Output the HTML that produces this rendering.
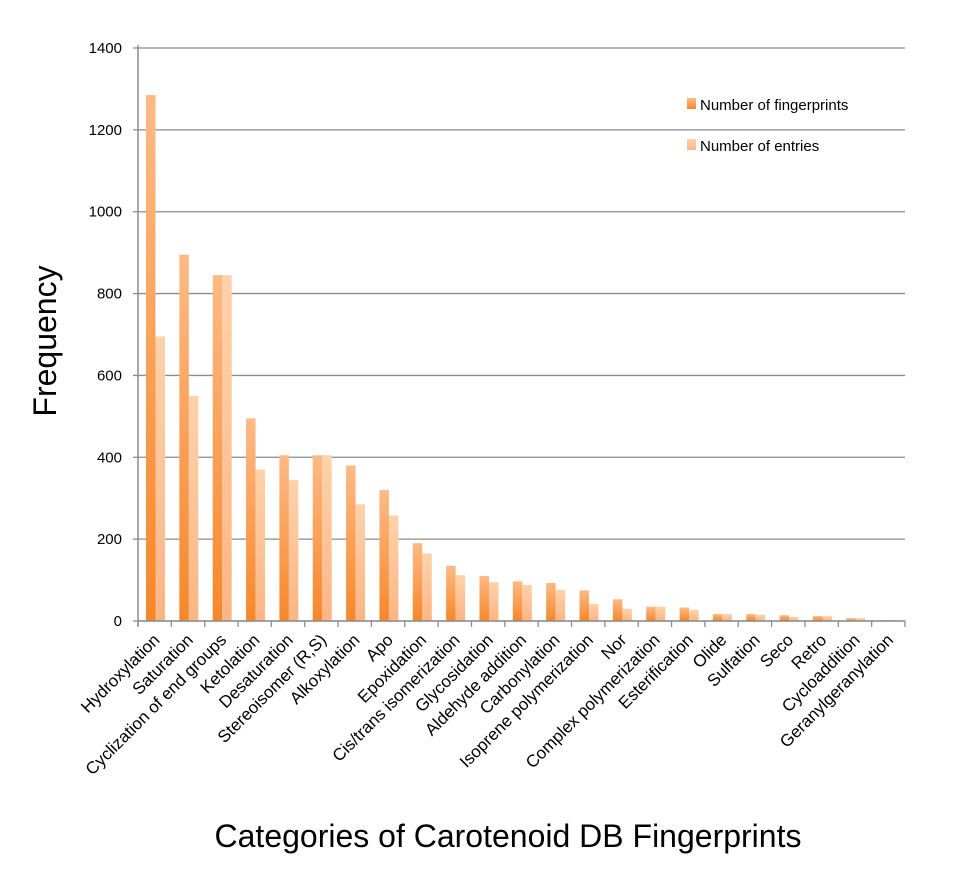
<!DOCTYPE html>
<html><head><meta charset="utf-8"><style>
body{margin:0;background:#fff;}
svg text{font-family:"Liberation Sans",Arial,sans-serif;fill:#000;}
</style></head><body>
<svg id="chart" width="967" height="883" viewBox="0 0 967 883" xmlns="http://www.w3.org/2000/svg">
<defs>
<linearGradient id="gFp" x1="0" y1="1" x2="0" y2="0"><stop offset="0" stop-color="#f6872a"/><stop offset="1" stop-color="#fdba86"/></linearGradient>
<linearGradient id="gEn" x1="0" y1="1" x2="0" y2="0"><stop offset="0" stop-color="#fcb585"/><stop offset="1" stop-color="#ffd2aa"/></linearGradient>
</defs>
<g id="grid"></g><g id="bars"></g><g id="axes"></g><g id="labels"></g>
<g>
<rect x="687" y="98" width="9" height="11" fill="url(#gFp)"/>
<text x="700" y="110" font-size="15">Number of fingerprints</text>
<rect x="687" y="139" width="9" height="11" fill="url(#gEn)"/>
<text x="700" y="151" font-size="15">Number of entries</text>
</g>
<text transform="translate(56,341) rotate(-90)" text-anchor="middle" font-size="32">Frequency</text>
<text x="508" y="847" text-anchor="middle" font-size="32">Categories of Carotenoid DB Fingerprints</text>
</svg>
<script>
const categories=["Hydroxylation","Saturation","Cyclization of end groups","Ketolation","Desaturation","Stereoisomer (R,S)","Alkoxylation","Apo","Epoxidation","Cis/trans isomerization","Glycosidation","Aldehyde addition","Carbonylation","Isoprene polymerization","Nor","Complex polymerization","Esterification","Olide","Sulfation","Seco","Retro","Cycloaddition","Geranylgeranylation"];
const fingerprints=[1285,895,845,495,405,405,380,320,190,135,110,97,93,75,53,35,33,17,17,14,12,7,2];
const entries=[695,550,845,370,345,405,285,258,165,112,95,88,76,42,30,35,27,17,15,10,12,7,2];
const yTicks=[0,200,400,600,800,1000,1200,1400];
const NS="http://www.w3.org/2000/svg";
const X0=138,X1=905,Y0=621,Y1=48,YMAX=1400;
const bw=(X1-X0)/categories.length;
function y(v){return Y0-(v/YMAX)*(Y0-Y1);}
function x(i){return X0+i*bw;}
function mk(t,a,p){const e=document.createElementNS(NS,t);for(const k in a)e.setAttribute(k,a[k]);p.appendChild(e);return e;}
const grid=document.getElementById('grid'),bars=document.getElementById('bars'),axes=document.getElementById('axes'),labels=document.getElementById('labels');
yTicks.forEach(v=>{
  const l=mk('line',{x1:X0-5,x2:X1,y1:y(v),y2:y(v),stroke:'#8c8c8c','stroke-width':1.3},grid);
  
  
  const t=mk('text',{x:X0-16,y:y(v)+5,'text-anchor':'end','font-size':15},axes);
  t.textContent=v;
  
  
});
const ax=mk('line',{x1:X0,x2:X0,y1:Y1-3,y2:Y0+5,stroke:'#8c8c8c','stroke-width':1.5},axes);


const xa=mk('line',{x1:X0,x2:X1,y1:Y0,y2:Y0,stroke:'#8c8c8c','stroke-width':1.5},axes);


for(let i=0;i<=categories.length;i++){
  const tk=mk('line',{x1:x(i),x2:x(i),y1:Y0,y2:Y0+6,stroke:'#8c8c8c','stroke-width':1.3},axes);
  
  
}
categories.forEach((c,i)=>{
  const b1=mk('rect',{x:x(i)+8,y:y(fingerprints[i]),width:9.5,height:Y0-y(fingerprints[i]),fill:'url(#gFp)'},bars);
  
  
  const b2=mk('rect',{x:x(i)+17.5,y:y(entries[i]),width:9.5,height:Y0-y(entries[i]),fill:'url(#gEn)'},bars);
  
  
  const cx=x(i)+bw/2+6;
  const cy=641;
  const t=mk('text',{x:cx,y:cy,'text-anchor':'end','font-size':17,transform:'rotate(-45 '+cx+' '+cy+')'},labels);
  t.textContent=c;
  
  
});
</script>
</body></html>
